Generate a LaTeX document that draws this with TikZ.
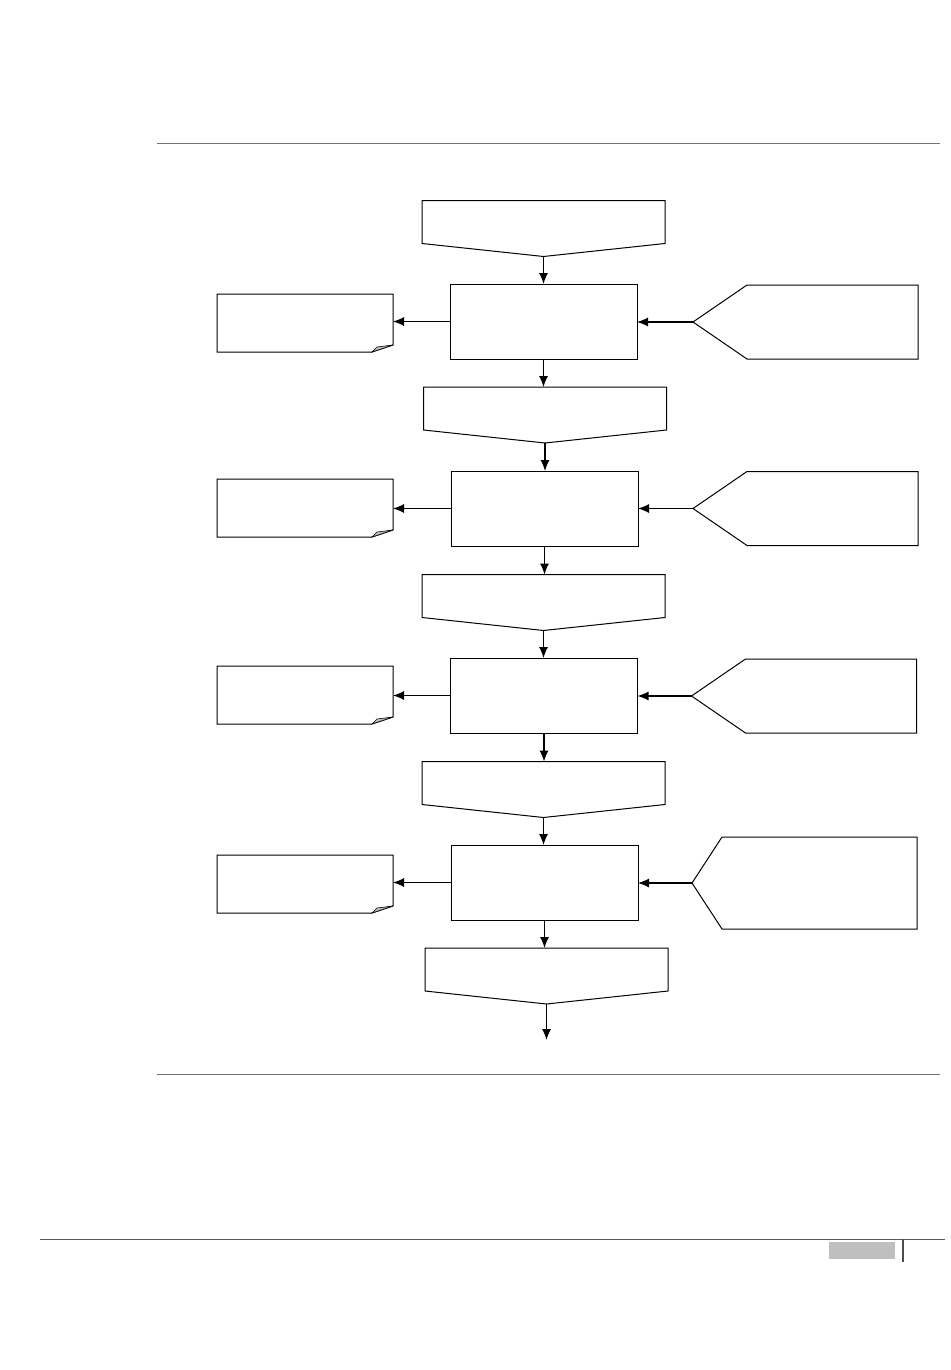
\documentclass[tikz,border=0pt]{standalone}
\usepackage{tikz}
\usetikzlibrary{arrows.meta}
\tikzset{>={Latex[width=9pt,length=11pt]}}
\tikzset{
  outline/.style={line width=1pt, draw=black},
  proc/.style={outline, minimum width=187pt, minimum height=75pt, inner sep=0pt, outer sep=0pt},
  conn/.style={minimum width=243pt, minimum height=56pt, inner sep=0pt, outer sep=0pt,
    append after command={\pgfextra{\draw[outline] (\tikzlastnode.north west) -- (\tikzlastnode.north east)
      -- ([yshift=13pt]\tikzlastnode.south east) -- (\tikzlastnode.south)
      -- ([yshift=13pt]\tikzlastnode.south west) -- cycle;}}},
  note/.style={minimum width=176pt, minimum height=58pt, inner sep=0pt, outer sep=0pt,
    append after command={\pgfextra{\draw[outline] (\tikzlastnode.north west) -- (\tikzlastnode.north east)
      -- ([yshift=7pt]\tikzlastnode.south east) -- ([xshift=-21pt]\tikzlastnode.south east)
      -- (\tikzlastnode.south west) -- cycle;
      \draw[line width=0.6pt, fill=black!25] ([yshift=7pt]\tikzlastnode.south east)
      -- ([xshift=-16pt,yshift=5pt]\tikzlastnode.south east) -- ([xshift=-21pt]\tikzlastnode.south east) -- cycle;}}},
  disp/.style={minimum width=225pt, minimum height=74pt, inner sep=0pt, outer sep=0pt,
    append after command={\pgfextra{\draw[outline] (\tikzlastnode.west) -- ([xshift=#1]\tikzlastnode.north west)
      -- (\tikzlastnode.north east) -- (\tikzlastnode.south east)
      -- ([xshift=#1]\tikzlastnode.south west) -- cycle;}}},
  disp/.default=54pt,
  rule/.style={line width=1pt, draw=black!55},
  flow/.style={->, line width=1.1pt}
}

\begin{document}
\begin{tikzpicture}[x=1pt, y=-1pt]
    \useasboundingbox (0,0) rectangle (950,1370);

    % page rules
    \coordinate (top-l) at (157,143);
    \coordinate (top-r) at (940,143);
    \coordinate (bot-l) at (157,1074);
    \coordinate (bot-r) at (940,1074);
    \coordinate (foot-l) at (40,1239);
    \coordinate (foot-r) at (945,1239);
    \draw[rule] (top-l) -- (top-r);
    \draw[rule] (bot-l) -- (bot-r);
    \draw[line width=1pt, draw=black!65] (foot-l) -- (foot-r);
    \node[fill=black!25, minimum width=66pt, minimum height=17pt, inner sep=0pt] (page-box) at (862,1250.5) {};
    \draw[line width=1.4pt, draw=black!70] (903,1239) -- (903,1262);

    % stage 1
    \node[conn] (C1) at (543.5,228.5) {};
    \node[proc] (R1) at (543.5,321.5) {};
    \node[note] (D1) at (305,323) {};
    \node[disp] (S1) at (805.5,322) {};

    % stage 2
    \node[conn] (C2) at (545,415) {};
    \node[proc] (R2) at (544.5,508.5) {};
    \node[note] (D2) at (305,508) {};
    \node[disp] (S2) at (805.5,508.5) {};

    % stage 3
    \node[conn] (C3) at (543.5,602.5) {};
    \node[proc] (R3) at (544,695.5) {};
    \node[note] (D3) at (305,695) {};
    \node[disp] (S3) at (804,696) {};

    % stage 4
    \node[conn] (C4) at (543.5,789.5) {};
    \node[proc] (R4) at (544.5,882.5) {};
    \node[note] (D4) at (305,884) {};
    \node[disp=30pt, minimum height=92pt] (S4) at (804.5,883) {};

    % output
    \node[conn] (C5) at (546.5,976) {};
    \coordinate (out) at (546.5,1040);

    \draw[flow] (C1.south) -- (C1.south |- R1.north);
    \draw[flow] (R1.west) -- (R1.west -| D1.east);
    \draw[flow] (S1.west) -- (S1.west -| R1.east);
    \draw[flow] (R1.south) -- (R1.south |- C2.north);

    \draw[flow] (C2.south) -- (C2.south |- R2.north);
    \draw[flow] (R2.west) -- (R2.west -| D2.east);
    \draw[flow] (S2.west) -- (S2.west -| R2.east);
    \draw[flow] (R2.south) -- (R2.south |- C3.north);

    \draw[flow] (C3.south) -- (C3.south |- R3.north);
    \draw[flow] (R3.west) -- (R3.west -| D3.east);
    \draw[flow] (S3.west) -- (S3.west -| R3.east);
    \draw[flow] (R3.south) -- (R3.south |- C4.north);

    \draw[flow] (C4.south) -- (C4.south |- R4.north);
    \draw[flow] (R4.west) -- (R4.west -| D4.east);
    \draw[flow] (S4.west) -- (S4.west -| R4.east);
    \draw[flow] (R4.south) -- (R4.south |- C5.north);

    \draw[flow] (C5.south) -- (out);

  \end{tikzpicture}
\end{document}
